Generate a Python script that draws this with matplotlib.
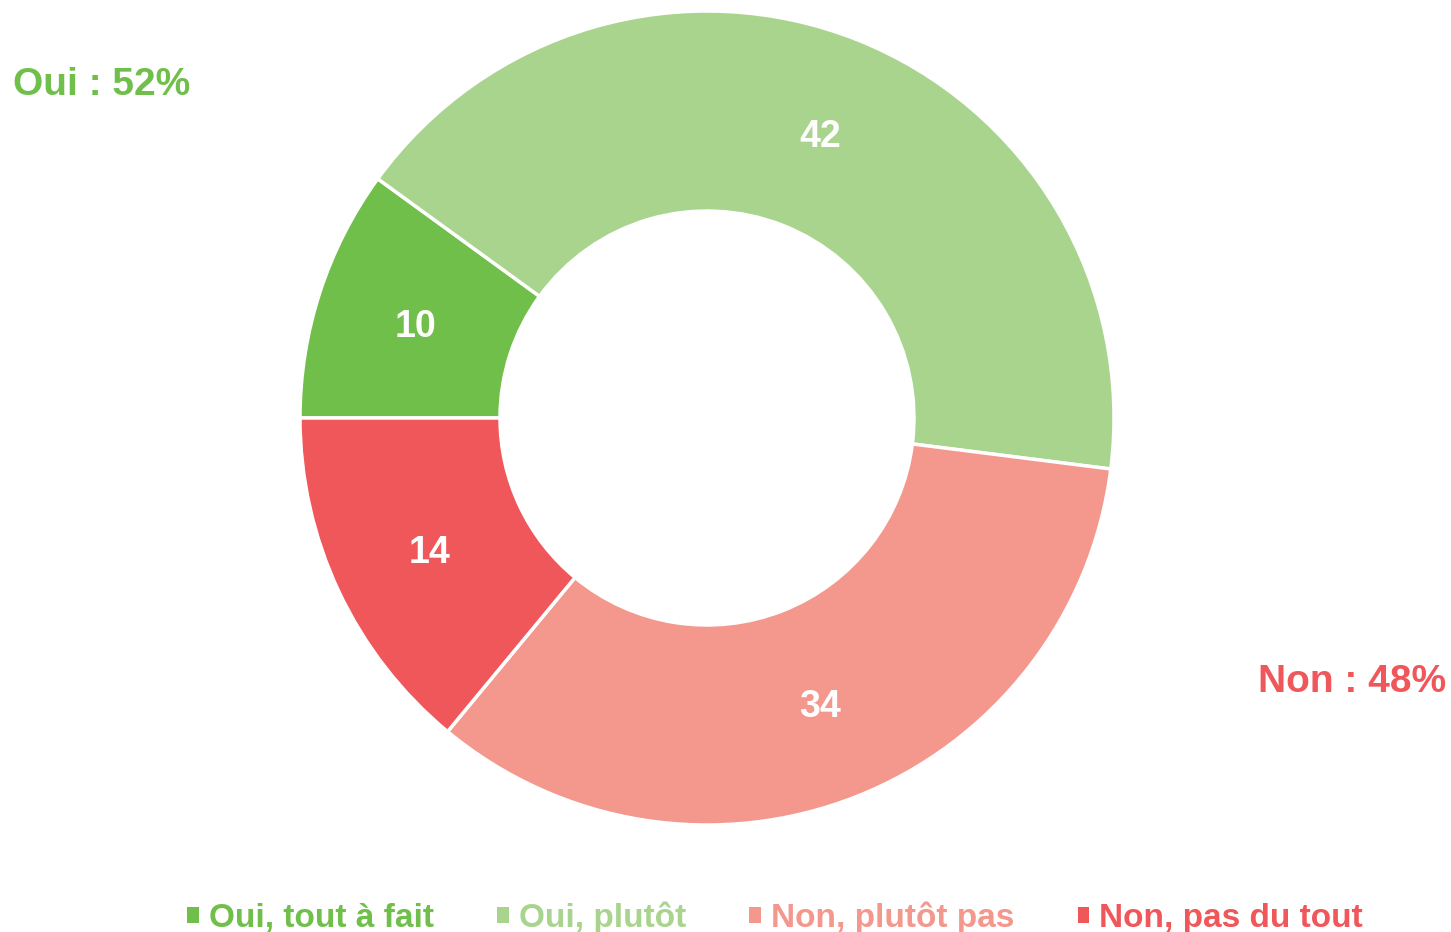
import matplotlib
matplotlib.use("Agg")
import matplotlib.pyplot as plt
from matplotlib.patches import Patch

categories = ["Oui, tout à fait", "Oui, plutôt", "Non, plutôt pas", "Non, pas du tout"]
values = [10, 42, 34, 14]
colors = ["#70BF4A", "#A9D48E", "#F4978D", "#F0575A"]
summary_labels = ["Oui : 52%", "Non : 48%"]

plt.rcParams['font.family'] = ['Liberation Sans', 'DejaVu Sans']
plt.rcParams['font.weight'] = 'bold'

W, H = 1451, 932
fig = plt.figure(figsize=(W / 100, H / 100), dpi=100)
ax = fig.add_axes([0, 0, 1, 1])

cx, cy, R, r_in = 707, H - 418, 407, 207
wedges, texts = ax.pie(values, colors=colors, startangle=180, counterclock=False,
                       center=(cx, cy), radius=R, labels=[str(v) for v in values],
                       labeldistance=(R + r_in) / 2 / R,
                       wedgeprops=dict(width=R - r_in, edgecolor='white', linewidth=2.5),
                       textprops=dict(color='white', fontweight='bold'))
for t in texts:
    t.set_ha('center')
    t.set_va('center')
    t.set_fontsize(27)
    x, y = t.get_position()
    t.set_position((x, y - 4))
ax.set_xlim(0, W)
ax.set_ylim(0, H)
ax.set_aspect('equal')
ax.axis('off')

fig.text(13 / W, 1 - 85 / H, summary_labels[0], color=colors[0], fontsize=28,
         fontweight='bold', ha='left', va='center')
fig.text(1446 / W, 1 - 682 / H, summary_labels[1], color=colors[3], fontsize=28,
         fontweight='bold', ha='right', va='center')

handles = [Patch(facecolor=c, edgecolor='none') for c in colors]
leg = fig.legend(handles, categories, loc='center', bbox_to_anchor=(775 / W, 1 - 918 / H),
                 ncol=4, frameon=False, handlelength=0.35, handleheight=0.35,
                 handletextpad=0.3, columnspacing=1.9,
                 prop=dict(size=24, weight='bold'), labelcolor=colors)

fig.savefig("out.png", dpi=100)
